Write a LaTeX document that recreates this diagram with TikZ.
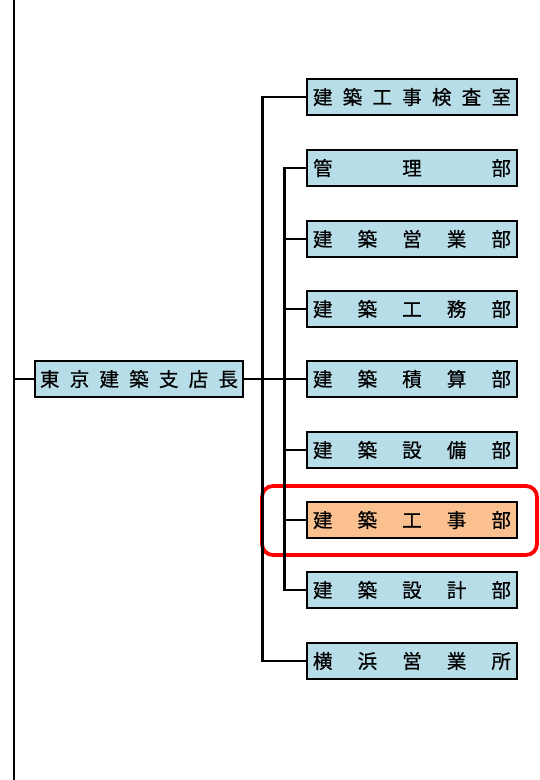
\documentclass[tikz,border=0pt]{standalone}
\usepackage{fontspec}
\newfontfamily\jpfont[FakeBold=0.6]{Noto Sans CJK JP}
\definecolor{boxblue}{RGB}{183,221,232}
\definecolor{boxorange}{RGB}{250,192,144}
\definecolor{hlred}{RGB}{255,0,0}
\newcommand\spreadrow[1]{\hbox to 198pt{#1}}
\begin{document}
\begin{tikzpicture}[x=1pt,y=-1pt,
  orgbox/.style={draw=black,line width=2.8pt,fill=boxblue,inner sep=0pt,
    minimum width=210pt,minimum height=36pt,font=\jpfont\fontsize{19.5}{19.5}\selectfont},
  hibox/.style={orgbox,fill=boxorange},
  conn/.style={draw=black,line width=2.3pt},
  hiframe/.style={draw=hlred,line width=3.8pt,rounded corners=11pt}]
\useasboundingbox (0,0) rectangle (539,780);
% highlight frame
\draw[hiframe] (262,486) rectangle (537,555);
% boxes
\node[orgbox,minimum width=208pt] (main) at (139,379) {\spreadrow{東\hfill 京\hfill 建\hfill 築\hfill 支\hfill 店\hfill 長}};
\node[orgbox] (b1) at (412,97) {\spreadrow{建\hfill 築\hfill 工\hfill 事\hfill 検\hfill 査\hfill 室}};
\node[orgbox] (b2) at (412,168) {\spreadrow{管\hfill 理\hfill 部}};
\node[orgbox] (b3) at (412,239) {\spreadrow{建\hfill 築\hfill 営\hfill 業\hfill 部}};
\node[orgbox] (b4) at (412,309) {\spreadrow{建\hfill 築\hfill 工\hfill 務\hfill 部}};
\node[orgbox] (b5) at (412,379) {\spreadrow{建\hfill 築\hfill 積\hfill 算\hfill 部}};
\node[orgbox] (b6) at (412,450) {\spreadrow{建\hfill 築\hfill 設\hfill 備\hfill 部}};
\node[hibox] (b7) at (412,520) {\spreadrow{建\hfill 築\hfill 工\hfill 事\hfill 部}};
\node[orgbox] (b8) at (412,590) {\spreadrow{建\hfill 築\hfill 設\hfill 計\hfill 部}};
\node[orgbox] (b9) at (412,661) {\spreadrow{横\hfill 浜\hfill 営\hfill 業\hfill 所}};
% left trunk
\coordinate (ltop) at (14,0);
\coordinate (lbot) at (14,780);
\draw[conn] (ltop) -- (lbot);
\draw[conn] (ltop |- main.west) -- (main.west);
% main to right
\draw[conn] (main.east) -- (b5.west);
% outer bus
\draw[conn] (b1.west) -- ++(-43,0) |- (b9.west);
% inner bus
\draw[conn] (b2.west) -- ++(-21,0) |- (b8.west);
\foreach \b in {b3,b4,b6,b7}{
  \draw[conn] (\b.west) -- ++(-21,0);
}
\end{tikzpicture}
\end{document}
